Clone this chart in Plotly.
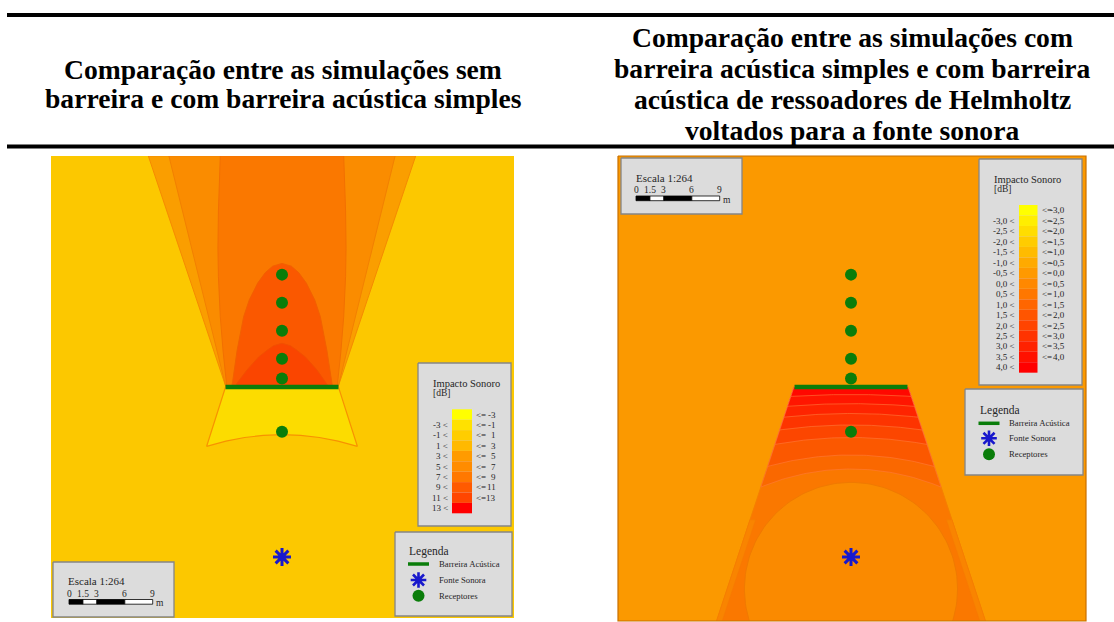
import numpy as np
import plotly.graph_objects as go

W, H = 1114, 622
PX_PER_M = 9.35          # map scale (pixels per metre), from the 1:264 scale bar
SERIF = "Times New Roman, Liberation Serif, serif"

# ---------------- DATA (metres, origin = sound source) ----------------
receiver_x = [0, 0, 0, 0, 0, 0]
receiver_y = [13.4, 19.1, 21.2, 24.2, 27.2, 30.2]
source_x = [0.0]
source_y = [0.0]
barrier_x = [-6.04, 6.04]
barrier_y = [18.18, 18.18]

# left map (sem barreira vs barreira simples) - contour boundaries
L_wedge_outer_x = [-6.0, -14.3, 14.3, 6.0]
L_wedge_outer_y = [18.2, 42.9, 42.9, 18.2]
L_wedge_mid_x = [-6.0, -12.1, 12.1, 6.0]
L_wedge_mid_y = [18.2, 42.9, 42.9, 18.2]
L_central_x = [-5.9, -6.3, -6.6, -6.8, -6.85, -6.8, -6.6, 6.6, 6.8, 6.85, 6.8, 6.6, 6.3, 5.9]
L_central_y = [18.2, 22.0, 25.7, 30.0, 33.0, 37.0, 42.9, 42.9, 37.0, 33.0, 30.0, 25.7, 22.0, 18.2]
L_lobe_x = [-5.4, -5.3, -4.8, -4.1, -3.5, -2.6, -1.8, -1.0, 0.0, 1.0, 1.8, 2.6, 3.5, 4.1, 4.8, 5.3, 5.4]
L_lobe_y = [18.2, 18.6, 22.1, 25.7, 27.5, 29.3, 30.4, 31.1, 31.4, 31.1, 30.4, 29.3, 27.5, 25.7, 22.1, 18.6, 18.2]
L_inner_x = [-5.0, -4.8, -3.75, -2.5, -1.6, -0.9, 0.0, 0.9, 1.6, 2.5, 3.75, 4.8, 5.0]
L_inner_y = [18.2, 18.6, 20.0, 21.4, 22.1, 22.6, 22.86, 22.6, 22.1, 21.4, 20.0, 18.6, 18.2]
L_front_x = [-6.04, -8.06, -6.0, -4.0, -2.0, 0.0, 2.0, 4.0, 6.0, 8.06, 6.04]
L_front_y = [18.18, 11.84, 12.40, 12.78, 13.0, 13.08, 13.0, 12.78, 12.40, 11.84, 18.18]

# right map (barreira simples vs Helmholtz) - shadow trapezoid, arc bands, near-field circle
R_trap_top_y, R_trap_top_half = 18.18, 6.1
R_trap_bot_y, R_trap_bot_half = -6.9, 14.4
R_band_top = [9.41, 10.91, 12.78, 14.12, 15.35, 16.40, 17.38]   # arc crest (m)
R_band_rad = [25, 33, 45, 55, 65, 80, 100]                      # arc radius (m)
R_circle_cx, R_circle_cy, R_circle_r = 0.0, -3.42, 11.4

# legends
left_lo = ["", "-3 <", "-1 <", "1 <", "3 <", "5 <", "7 <", "9 <", "11 <", "13 <"]
left_hi = ["-3", "-1", "1", "3", "5", "7", "9", "11", "13", ""]
right_lo = ["", "-3,0 <", "-2,5 <", "-2,0 <", "-1,5 <", "-1,0 <", "-0,5 <", "0,0 <", "0,5 <",
            "1,0 <", "1,5 <", "2,0 <", "2,5 <", "3,0 <", "3,5 <", "4,0 <"]
right_hi = ["-3,0", "-2,5", "-2,0", "-1,5", "-1,0", "-0,5", "0,0", "0,5", "1,0",
            "1,5", "2,0", "2,5", "3,0", "3,5", "4,0", ""]
scale_marks_m = [0, 1.5, 3, 6, 9]
scale_labels = ["0", "1.5", "3", "6", "9"]

title_left = ["Comparação entre as simulações sem", "barreira e com barreira acústica simples"]
title_right = ["Comparação entre as simulações com", "barreira acústica simples e com barreira",
               "acústica de ressoadores de Helmholtz", "voltados para a fonte sonora"]

# ---------------- STYLES ----------------
left_colors = ["#FFFF00", "#FFE100", "#FFCD00", "#FFB900", "#FF9B00", "#FF8C00", "#FF7800",
               "#FF5A00", "#FF4600", "#FF0000"]
right_colors = ["#FFFF00", "#FFEE00", "#FFDD00", "#FFCC00", "#FFBB00", "#FFAA00", "#FF9900",
                "#FF8800", "#FF7700", "#FF6600", "#FF5500", "#FF4400", "#FF3300", "#FF2200",
                "#FF1100", "#FF0000"]
L_BG = "#FCC800"
R_BG = "#FB9900"
R_band_colors = ["#FA6800", "#FB5800", "#FC4600", "#FD3400", "#FE2400", "#FF1600", "#FF0800"]
GREEN = "#0A7D0A"
BLUE = "#1818CC"
BOX_FILL = "#DCDCDC"
BOX_LINE = "#858585"
TXT = "#262626"

# pixel layout of the two maps (left, top, right, bottom) and of the source in each
LEFT_BOX = (51, 156, 514, 618)
LEFT_SRC = (282, 557)
RIGHT_BOX = (618, 156, 1086, 621)
RIGHT_SRC = (851, 557)


def ranges(box, src):
    x0, y0, x1, y1 = box
    sx, sy = src
    return ([(x0 - sx) / PX_PER_M, (x1 - sx) / PX_PER_M],
            [(sy - y1) / PX_PER_M, (sy - y0) / PX_PER_M])


fig = go.Figure()


def poly(x, y, color, axis, line_color=None, lw=0.0):
    xa, ya = axis
    fig.add_trace(go.Scatter(
        x=list(x) + [x[0]], y=list(y) + [y[0]], mode="lines", fill="toself",
        fillcolor=color, line=dict(color=line_color or color, width=lw),
        xaxis=xa, yaxis=ya, hoverinfo="skip", showlegend=False))


LA = ("x", "y")
RA = ("x2", "y2")

# ---------- left map ----------
poly(L_wedge_outer_x, L_wedge_outer_y, "#FA9E00", LA, "#F58A00", 1)
poly(L_wedge_mid_x, L_wedge_mid_y, "#FA8C00", LA, "#F28000", 1)
poly(L_central_x, L_central_y, "#FA7800", LA, "#F27000", 1)
poly(L_lobe_x, L_lobe_y, "#FA5800", LA, "#F26000", 1)
poly(L_inner_x, L_inner_y, "#FA4500", LA, "#F25000", 1)
poly(L_front_x, L_front_y, "#FCDC00", LA, "#F89200", 1.2)


# ---------- right map ----------
def trap_edge(y):
    slope = (R_trap_bot_half - R_trap_top_half) / (R_trap_top_y - R_trap_bot_y)
    return R_trap_top_half + (R_trap_top_y - y) * slope


poly([-R_trap_top_half, -R_trap_bot_half, R_trap_bot_half, R_trap_top_half],
     [R_trap_top_y, R_trap_bot_y, R_trap_bot_y, R_trap_top_y], "#FA7800", RA, "#F58000", 1)

for yc, rad, col in zip(R_band_top, R_band_rad, R_band_colors):
    def arc(x, yc=yc, rad=rad):
        return yc - rad + np.sqrt(rad * rad - x * x)
    yy = yc
    for _ in range(60):
        yy = arc(trap_edge(yy))
    xe = trap_edge(yy)
    xs = np.linspace(-xe, xe, 60)
    px = [-R_trap_top_half] + list(xs) + [R_trap_top_half]
    py = [R_trap_top_y] + list(arc(xs)) + [R_trap_top_y]
    poly(px, py, col, RA, "#FF7A3A", 0.6)

# subtle strips along the lower trapezoid sides
ys = np.linspace(R_trap_bot_y, 4.0, 30)
for sgn in (-1, 1):
    outer = [sgn * trap_edge(v) for v in ys]
    inner = [sgn * (trap_edge(v) - 0.6) for v in ys]
    poly(outer + inner[::-1], list(ys) + list(ys[::-1]), "#F98400", RA, "#F47A00", 0.5)

th = np.linspace(0, 2 * np.pi, 160)
poly(R_circle_cx + R_circle_r * np.cos(th), R_circle_cy + R_circle_r * np.sin(th),
     "#FA8A00", RA, "#F07A00", 1)

# ---------- barrier, receivers, source on both maps ----------
for xa, ya in (LA, RA):
    fig.add_trace(go.Scatter(x=barrier_x, y=barrier_y, mode="lines",
                             line=dict(color=GREEN, width=4.5), xaxis=xa, yaxis=ya,
                             hoverinfo="skip", showlegend=False))
    fig.add_trace(go.Scatter(x=receiver_x, y=receiver_y, mode="markers",
                             marker=dict(color=GREEN, size=12, line=dict(width=0)),
                             xaxis=xa, yaxis=ya, hoverinfo="skip", showlegend=False))
    fig.add_trace(go.Scatter(x=source_x, y=source_y, mode="markers",
                             marker=dict(symbol="asterisk-open", size=15, color=BLUE,
                                         line=dict(color=BLUE, width=3)),
                             xaxis=xa, yaxis=ya, hoverinfo="skip", showlegend=False))

# ---------- overlay (pixel units) : boxes, legends, scale bars, header ----------
annotations = []


def text(x, y, s, size=9, anchor="left", color=TXT, family=SERIF, bold=False):
    annotations.append(dict(
        x=x, y=y, xref="x3", yref="y3", text=("<b>%s</b>" % s) if bold else s,
        showarrow=False, xanchor=anchor, yanchor="middle",
        font=dict(family=family, size=size, color=color)))


def rect(x0, y0, x1, y1, fill, line=None, lw=0):
    fig.add_trace(go.Scatter(
        x=[x0, x1, x1, x0, x0], y=[y0, y0, y1, y1, y0], mode="lines", fill="toself",
        fillcolor=fill, line=dict(color=line or fill, width=lw),
        xaxis="x3", yaxis="y3", hoverinfo="skip", showlegend=False))


def hline(x0, x1, y, color, width):
    fig.add_trace(go.Scatter(x=[x0, x1], y=[y, y], mode="lines",
                             line=dict(color=color, width=width), xaxis="x3", yaxis="y3",
                             hoverinfo="skip", showlegend=False))


def marker(x, y, **mk):
    fig.add_trace(go.Scatter(x=[x], y=[y], mode="markers", marker=mk, xaxis="x3",
                             yaxis="y3", hoverinfo="skip", showlegend=False))


# header rules
hline(7, 1114, 15, "black", 4)
hline(7, 1114, 146.5, "black", 4)

# titles
for i, s in enumerate(title_left):
    text(283, 69 + i * 29.5, s, size=27.6, anchor="center", color="black", bold=True)
for i, s in enumerate(title_right):
    text(852, 37.5 + i * 31, s, size=27.6, anchor="center", color="black", bold=True)

# right map border
fig.add_trace(go.Scatter(x=[618, 1086, 1086, 618, 618], y=[156, 156, 621, 621, 156],
                         mode="lines", line=dict(color="#C87000", width=1.2),
                         xaxis="x3", yaxis="y3", hoverinfo="skip", showlegend=False))


def impact_box(box, bar_x, bar_y0, step, colors, lo, hi, lo_x, le_x, hi_x, title_xy):
    rect(*box, BOX_FILL, BOX_LINE, 1.3)
    text(title_xy[0], title_xy[1], "Impacto Sonoro", size=10.5)
    text(title_xy[0], title_xy[1] + 10, "[dB]", size=9.5)
    for i, c in enumerate(colors):
        rect(bar_x[0], bar_y0 + i * step, bar_x[1], bar_y0 + (i + 1) * step, c)
        yc = bar_y0 + (i + 0.5) * step
        if lo[i]:
            text(lo_x, yc, lo[i], size=9, anchor="right")
        if hi[i]:
            text(le_x, yc, "&lt;=", size=9, anchor="left")
            text(hi_x, yc, hi[i], size=9, anchor="right")


impact_box((418, 363, 511, 526), (452, 472), 409.3, 10.4, left_colors, left_lo, left_hi,
           449.5, 474, 497.5, (431, 383))
impact_box((979, 159, 1082, 385), (1019, 1037.5), 205, 10.48, right_colors, right_lo, right_hi,
           1016.5, 1039.5, 1067, (992, 179))


def legend_box(box, title_xy, sym_x, rows_y, text_x):
    rect(*box, BOX_FILL, BOX_LINE, 1.3)
    text(title_xy[0], title_xy[1], "Legenda", size=11.5)
    hline(sym_x - 10.5, sym_x + 10.5, rows_y[0], GREEN, 3.5)
    text(text_x, rows_y[0], "Barreira Acústica", size=8.7)
    marker(sym_x, rows_y[1], symbol="asterisk-open", size=13, color=BLUE,
           line=dict(color=BLUE, width=2.6))
    text(text_x, rows_y[1], "Fonte Sonora", size=8.7)
    marker(sym_x, rows_y[2], symbol="circle", size=12, color=GREEN, line=dict(width=0))
    text(text_x, rows_y[2], "Receptores", size=8.7)


legend_box((395, 532, 512, 616), (407, 551.5), 418.5, (564, 580, 595.7), 436.5)
legend_box((965, 389, 1083, 475), (977.5, 410), 989, (423.3, 438.3, 454.3), 1007)


def scale_box(box, title_xy, bar_x0, bar_y, lab_y):
    rect(*box, BOX_FILL, BOX_LINE, 1.3)
    text(title_xy[0], title_xy[1], "Escala 1:264", size=11)
    px_m = 9.3
    for j in range(len(scale_marks_m) - 1):
        a = bar_x0 + scale_marks_m[j] * px_m
        b = bar_x0 + scale_marks_m[j + 1] * px_m
        rect(a, bar_y[0], b, bar_y[1], "black" if j % 2 == 0 else "white", "black", 0.8)
    for m, s in zip(scale_marks_m, scale_labels):
        text(bar_x0 + m * px_m, lab_y, s, size=9.5, anchor="center")
    text(bar_x0 + scale_marks_m[-1] * px_m + 1.5, bar_y[1] - 1, "m", size=9.5)


scale_box((53, 562, 174, 617), (66, 581), 69, (599.5, 604.2), 593.5)
scale_box((621, 158, 742, 214), (633.5, 178), 636, (196, 200.7), 189.5)

# ---------- layout ----------
lxr, lyr = ranges(LEFT_BOX, LEFT_SRC)
rxr, ryr = ranges(RIGHT_BOX, RIGHT_SRC)
hidden = dict(visible=False, showgrid=False, zeroline=False, fixedrange=True)

fig.update_layout(
    width=W, height=H, autosize=False,
    margin=dict(l=0, r=0, t=0, b=0, pad=0),
    paper_bgcolor="white", plot_bgcolor="rgba(0,0,0,0)",
    showlegend=False,
    xaxis=dict(domain=[LEFT_BOX[0] / W, LEFT_BOX[2] / W], range=lxr, anchor="y", **hidden),
    yaxis=dict(domain=[1 - LEFT_BOX[3] / H, 1 - LEFT_BOX[1] / H], range=lyr, anchor="x", **hidden),
    xaxis2=dict(domain=[RIGHT_BOX[0] / W, RIGHT_BOX[2] / W], range=rxr, anchor="y2", **hidden),
    yaxis2=dict(domain=[1 - RIGHT_BOX[3] / H, 1 - RIGHT_BOX[1] / H], range=ryr, anchor="x2", **hidden),
    xaxis3=dict(domain=[0, 1], range=[0, W], anchor="y3", **hidden),
    yaxis3=dict(domain=[0, 1], range=[H, 0], anchor="x3", **hidden),
    shapes=[
        dict(type="rect", xref="x domain", yref="y domain", x0=0, x1=1, y0=0, y1=1,
             fillcolor=L_BG, line=dict(width=0), layer="below"),
        dict(type="rect", xref="x2 domain", yref="y2 domain", x0=0, x1=1, y0=0, y1=1,
             fillcolor=R_BG, line=dict(width=0), layer="below"),
    ],
    annotations=annotations,
)

fig.write_html("out.html", config={"displayModeBar": False},
               post_script="document.body.style.margin='0px';"
                           "document.body.style.overflow='hidden';")
